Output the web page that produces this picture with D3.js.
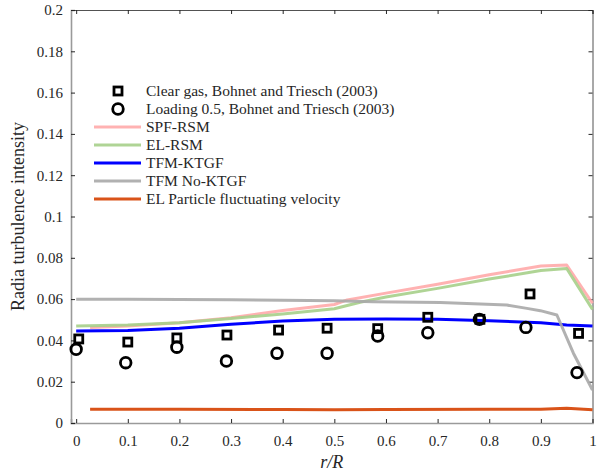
<!DOCTYPE html>
<html>
<head>
<meta charset="utf-8">
<script src="https://cdn.jsdelivr.net/npm/d3@7"></script>
<style>
  body { margin: 0; background: #fff; }
  svg text { font-family: "Liberation Serif", "DejaVu Serif", serif; fill: #262626; }
</style>
</head>
<body>
<svg id="chart" width="600" height="475"></svg>
<script>
// experimental data (Bohnet and Triesch, 2003)
const clearGasX = [0.005, 0.100, 0.195, 0.292, 0.392, 0.486, 0.584, 0.681, 0.782, 0.879, 0.973];
const clearGasY = [0.0407, 0.0392, 0.0412, 0.0426, 0.0450, 0.0459, 0.0457, 0.0512, 0.0502, 0.0625, 0.0434];
const loadingX = [0.000, 0.096, 0.195, 0.291, 0.389, 0.486, 0.584, 0.681, 0.781, 0.871, 0.970];
const loadingY = [0.0357, 0.0292, 0.0367, 0.0300, 0.0338, 0.0338, 0.0421, 0.0437, 0.0502, 0.0463, 0.0244];

// simulation curves
const spfX = [0.027, 0.1, 0.2, 0.3, 0.4, 0.5, 0.525, 0.6, 0.7, 0.8, 0.9, 0.95, 1.0];
const spfY = [0.0462, 0.0470, 0.0486, 0.0510, 0.0545, 0.0574, 0.0596, 0.0629, 0.0672, 0.0718, 0.0760, 0.0765, 0.0580];
const elX = [0.0, 0.1, 0.2, 0.3, 0.4, 0.5, 0.55, 0.6, 0.7, 0.8, 0.9, 0.95, 1.0];
const elY = [0.0470, 0.0474, 0.0486, 0.0506, 0.0528, 0.0553, 0.0585, 0.0610, 0.0652, 0.0697, 0.0738, 0.0748, 0.0550];
const ktgfX = [0.0, 0.1, 0.2, 0.3, 0.4, 0.5, 0.6, 0.7, 0.8, 0.9, 0.95, 1.0];
const ktgfY = [0.0445, 0.0448, 0.0459, 0.0478, 0.0494, 0.0502, 0.0504, 0.0502, 0.0495, 0.0486, 0.0475, 0.0470];
const noKtgfX = [0.0, 0.1, 0.2, 0.3, 0.4, 0.5, 0.575, 0.705, 0.834, 0.873, 0.899, 0.931, 0.963, 1.0];
const noKtgfY = [0.0599, 0.0599, 0.0598, 0.0597, 0.0595, 0.0592, 0.0587, 0.0583, 0.0571, 0.0555, 0.0544, 0.0523, 0.0338, 0.0160];
const particleX = [0.027, 0.2, 0.4, 0.5, 0.6, 0.8, 0.9, 0.95, 1.0];
const particleY = [0.0066, 0.0066, 0.0065, 0.0064, 0.0065, 0.0066, 0.0066, 0.0071, 0.0064];

const xTicks = [0, 0.1, 0.2, 0.3, 0.4, 0.5, 0.6, 0.7, 0.8, 0.9, 1];
const yTicks = [0, 0.02, 0.04, 0.06, 0.08, 0.1, 0.12, 0.14, 0.16, 0.18, 0.2];

const curves = [
    { name: "SPF-RSM", xs: spfX, ys: spfY, color: "#ffaaaa", opacity: 0.9 },
    { name: "EL-RSM", xs: elX, ys: elY, color: "#a6cf8a", opacity: 0.9 },
    { name: "TFM-KTGF", xs: ktgfX, ys: ktgfY, color: "#0000ff", opacity: 1 },
    { name: "TFM No-KTGF", xs: noKtgfX, ys: noKtgfY, color: "#a8a8a8", opacity: 0.9 },
    { name: "EL Particle fluctuating velocity", xs: particleX, ys: particleY, color: "#d95319", opacity: 1 }
];

const serif = "Liberation Serif, DejaVu Serif, serif";
const svg = d3.select("#chart");
const plotLeft = 71, plotRight = 592.5, plotTop = 10, plotBottom = 423;

const x = d3.scaleLinear().domain([-0.01, 1]).range([plotLeft, plotRight]);
const y = d3.scaleLinear().domain([0, 0.2]).range([plotBottom, plotTop]);

const fmt = d => d === 0 ? "0" : d === 1 ? "1" : String(+d.toFixed(2));

// frame: top and right
svg.append("g")
    .attr("transform", `translate(0,${plotTop})`)
    .call(d3.axisTop(x).tickValues(xTicks).tickSize(-4).tickFormat(""))
    .call(g => g.select(".domain").attr("stroke", "#262626").attr("stroke-width", 0.8))
    .call(g => g.selectAll(".tick line").attr("stroke", "#262626"));

svg.append("g")
    .attr("transform", `translate(${plotRight},0)`)
    .call(d3.axisRight(y).tickValues(yTicks).tickSize(-4).tickFormat(""))
    .call(g => g.select(".domain").attr("stroke", "#262626").attr("stroke-width", 0.8))
    .call(g => g.selectAll(".tick line").attr("stroke", "#262626"));

// bottom axis
svg.append("g")
    .attr("transform", `translate(0,${plotBottom})`)
    .attr("font-family", serif)
    .call(d3.axisBottom(x).tickValues(xTicks).tickSize(-4).tickPadding(12).tickFormat(fmt))
    .attr("font-family", serif)
    .attr("font-size", 15)
    .call(g => g.select(".domain").attr("stroke", "#9a9a9a").attr("stroke-width", 1.6))
    .call(g => g.selectAll(".tick line").attr("stroke", "#262626"));

// left axis
svg.append("g")
    .attr("transform", `translate(${plotLeft},0)`)
    .call(d3.axisLeft(y).tickValues(yTicks).tickSize(-4).tickPadding(8).tickFormat(fmt))
    .attr("font-family", serif)
    .attr("font-size", 15)
    .call(g => g.select(".domain").attr("stroke", "#9a9a9a").attr("stroke-width", 1.6))
    .call(g => g.selectAll(".tick line").attr("stroke", "#262626"));

// axis titles
svg.append("text")
    .attr("x", (plotLeft + plotRight) / 2)
    .attr("y", 468)
    .attr("text-anchor", "middle")
    .attr("font-size", 18)
    .attr("font-style", "italic")
    .text("r/R");

svg.append("text")
    .attr("transform", `translate(24,${(plotTop + plotBottom) / 2}) rotate(-90)`)
    .attr("text-anchor", "middle")
    .attr("font-size", 18)
    .text("Radia turbulence intensity");

// curves
const line = d3.line().x(d => x(d[0])).y(d => y(d[1]));

svg.append("g")
    .selectAll("path")
    .data(curves)
    .join("path")
    .attr("d", c => line(d3.zip(c.xs, c.ys)))
    .attr("fill", "none")
    .attr("stroke", c => c.color)
    .attr("stroke-opacity", c => c.opacity)
    .attr("stroke-width", 3)
    .attr("stroke-linejoin", "round");

// experimental markers
svg.append("g")
    .selectAll("rect")
    .data(d3.zip(clearGasX, clearGasY))
    .join("rect")
    .attr("x", d => x(d[0]) - 4)
    .attr("y", d => y(d[1]) - 4)
    .attr("width", 8)
    .attr("height", 8)
    .attr("fill", "none")
    .attr("stroke", "#000")
    .attr("stroke-width", 2.8);

svg.append("g")
    .selectAll("circle")
    .data(d3.zip(loadingX, loadingY))
    .join("circle")
    .attr("cx", d => x(d[0]))
    .attr("cy", d => y(d[1]))
    .attr("r", 5.3)
    .attr("fill", "none")
    .attr("stroke", "#000")
    .attr("stroke-width", 2.8);

// legend
const legend = svg.append("g").attr("transform", "translate(94,91)");
const rowH = 18;

legend.append("rect")
    .attr("x", 24 - 4).attr("y", -4).attr("width", 8).attr("height", 8)
    .attr("fill", "none").attr("stroke", "#000").attr("stroke-width", 2.8);
legend.append("text")
    .attr("x", 52).attr("y", 5).attr("font-size", 15.5)
    .text("Clear gas, Bohnet and Triesch (2003)");

legend.append("circle")
    .attr("cx", 24).attr("cy", rowH).attr("r", 5.3)
    .attr("fill", "none").attr("stroke", "#000").attr("stroke-width", 2.8);
legend.append("text")
    .attr("x", 52).attr("y", rowH + 5).attr("font-size", 15.5)
    .text("Loading 0.5, Bohnet and Triesch (2003)");

const items = legend.selectAll("g.item")
    .data(curves)
    .join("g")
    .attr("class", "item")
    .attr("transform", (c, i) => `translate(0,${(i + 2) * rowH})`);

items.append("line")
    .attr("x1", 0).attr("x2", 47)
    .attr("stroke", c => c.color)
    .attr("stroke-opacity", c => c.opacity)
    .attr("stroke-width", 3);

items.append("text")
    .attr("x", 52).attr("y", 5).attr("font-size", 15.5)
    .text(c => c.name);
</script>
</body>
</html>
